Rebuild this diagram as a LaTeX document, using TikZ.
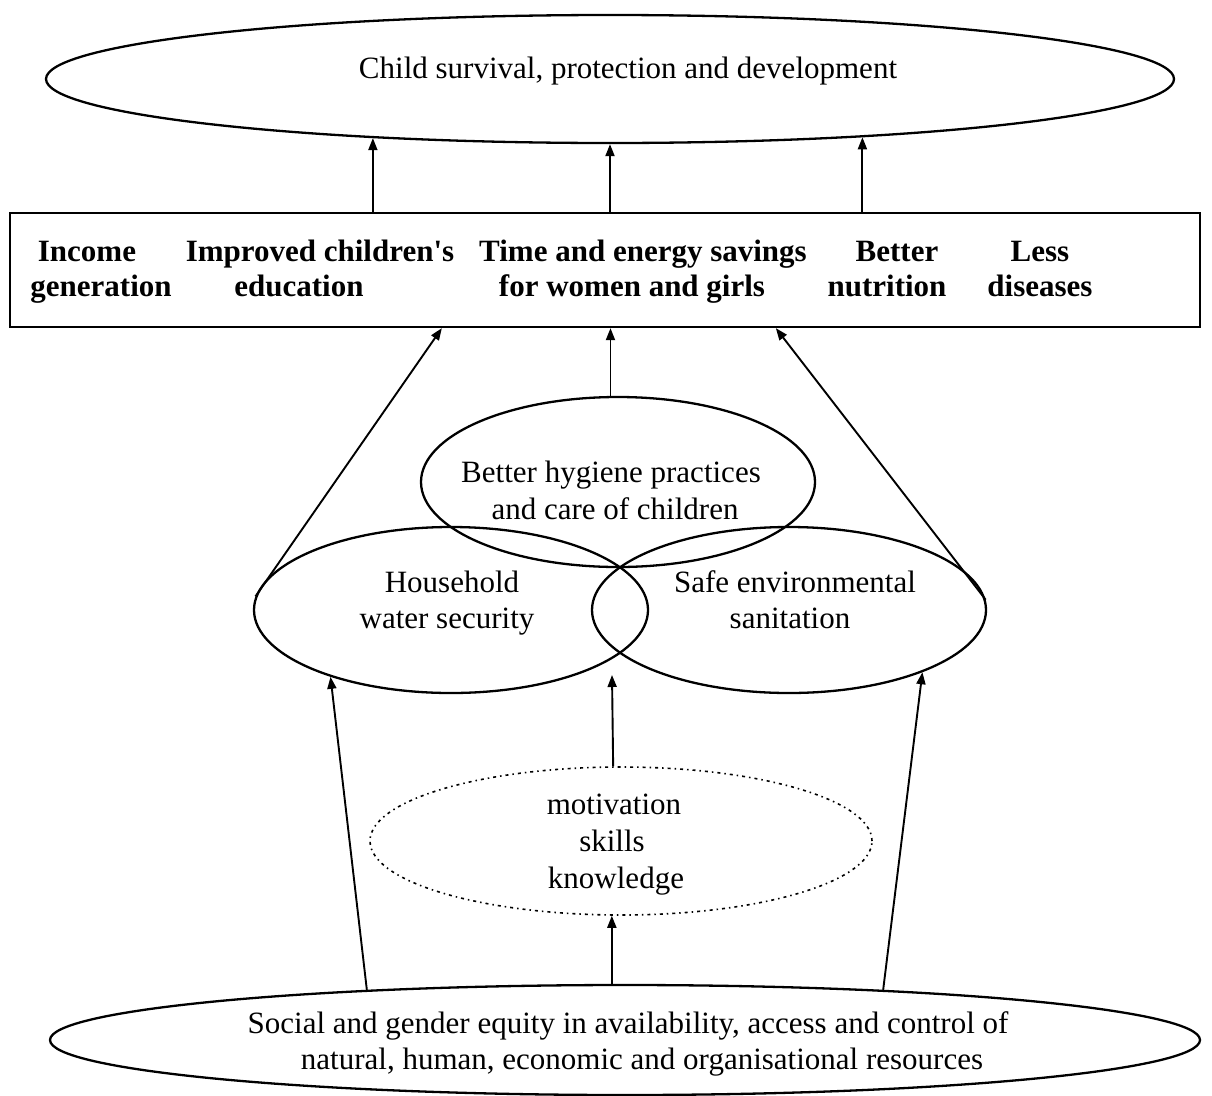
\documentclass[tikz,border=0pt]{standalone}
\usepackage{fontspec}
\setmainfont{Liberation Serif}
\usetikzlibrary{shapes.geometric,arrows.meta}
\begin{document}
\begin{tikzpicture}[x=1pt,y=-1pt,
  oval/.style={draw, ellipse, inner sep=0pt, line width=2.3pt},
  dotoval/.style={draw, ellipse, inner sep=0pt, line width=1.6pt, dash pattern=on 3pt off 4pt on 1.5pt off 4pt},
  conn/.style={line width=1.9pt, -{Triangle[length=12pt,width=9pt]}},
  lbl/.style={anchor=base, inner sep=0pt, font=\fontsize{31}{37}\selectfont},
  blbl/.style={anchor=base, inner sep=0pt, font=\fontsize{31}{37}\selectfont\bfseries},
]
\useasboundingbox (0,0) rectangle (1212,1095);

% shapes
\node[oval, minimum width=1128pt, minimum height=128pt] (goal) at (610,79) {};
\node[draw, line width=2.3pt, minimum width=1190pt, minimum height=114pt, inner sep=0pt] (res) at (605,270) {};
\node[oval, minimum width=394pt, minimum height=170pt] (hyg) at (618,482) {};
\node[oval, minimum width=394pt, minimum height=166pt] (water) at (451,610) {};
\node[oval, minimum width=394pt, minimum height=166pt] (san) at (789,610) {};
\node[dotoval, minimum width=502pt, minimum height=148pt] (mot) at (621,841) {};
\node[oval, minimum width=1150pt, minimum height=110pt] (equity) at (625,1040) {};
\coordinate (gap) at (612,675);

% texts
\node[lbl] (tgoal) at (628,78) {Child survival, protection and development};
\node[blbl] (r1a) at (87,261) {Income};
\node[blbl] (r1b) at (101,296) {generation};
\node[blbl] (r2a) at (320,261) {Improved children\textquotesingle s};
\node[blbl] (r2b) at (299,296) {education};
\node[blbl] (r3a) at (643,261) {Time and energy savings};
\node[blbl] (r3b) at (632,296) {for women and girls};
\node[blbl] (r4a) at (897,261) {Better};
\node[blbl] (r4b) at (887,296) {nutrition};
\node[blbl] (r5a) at (1040,261) {Less};
\node[blbl] (r5b) at (1040,296) {diseases};
\node[lbl] (th1) at (611,482) {Better hygiene practices};
\node[lbl] (th2) at (615,519) {and care of children};
\node[lbl] (tw1) at (452,592) {Household};
\node[lbl] (tw2) at (447,628) {water security};
\node[lbl] (ts1) at (795,592) {Safe environmental};
\node[lbl] (ts2) at (790,628) {sanitation};
\node[lbl] (tm1) at (614,814) {motivation};
\node[lbl] (tm2) at (612,851) {skills};
\node[lbl] (tm3) at (616,888) {knowledge};
\node[lbl] (te1) at (628,1033) {Social and gender equity in availability, access and control of};
\node[lbl] (te2) at (642,1069) {natural, human, economic and organisational resources};

% connectors
\draw[conn] (goal.194.6 |- res.north) -- (goal.194.6);
\draw[conn] (goal.south |- res.north) -- (goal.south);
\draw[conn] (goal.347.8 |- res.north) -- (goal.347.8);
\draw[conn] (hyg.95.4) -- (hyg.95.4 |- res.south);
\draw[conn] (water.176) -- ([xshift=433pt]res.south west);
\draw[conn] (san.3) -- ([xshift=767pt]res.south west);
\draw[conn] (mot.96.9) -- (gap);
\draw[conn] (mot.263.1 |- equity.north) -- (mot.263.1);
\draw[conn] (equity.169.1) -- (water.209.7);
\draw[conn] (equity.11.4) -- (san.335.25);
\end{tikzpicture}
\end{document}
